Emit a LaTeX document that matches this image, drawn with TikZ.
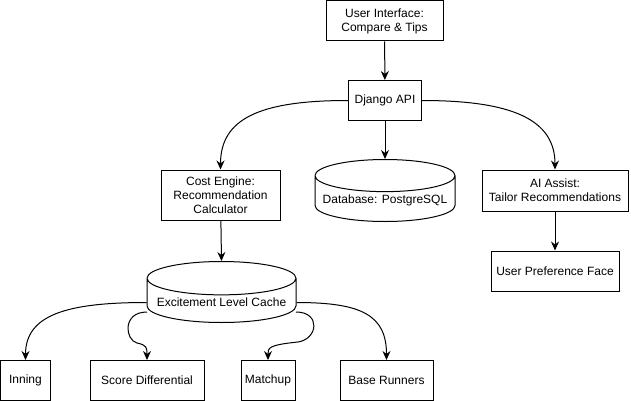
\documentclass[tikz,border=0pt]{standalone}
\usepackage{fontspec}
\setmainfont{Liberation Sans}
\usepackage{tikz}
\usetikzlibrary{calc}
\usetikzlibrary{arrows.meta}
\usetikzlibrary{shapes.geometric}
\tikzset{box/.style={draw=black, line width=1pt, inner sep=2pt, align=center, font=\fontsize{12}{14}\selectfont}}
\tikzset{store/.style={box, cylinder, shape border rotate=90, aspect=0.25, anchor=shape center}}

\begin{document}
\begin{tikzpicture}[x=1pt, y=-1pt]
\tikzstyle{arr} = [line width=1pt, -{Stealth[length=9pt, width=8pt, inset=3pt]}]
\useasboundingbox (0, 0) rectangle (631, 401);

\node[box, minimum width=117pt, minimum height=40pt](ui) at (384.5, 21){User Interface:\\Compare \& Tips};
\node[box, minimum width=73pt, minimum height=40pt](api) at (385, 100.5){Django API};
\node[box, minimum width=119pt, minimum height=50pt](cost) at (220.5, 195){Cost Engine:\\Recommendation\\Calculator};
\node[store, minimum width=140pt, minimum height=62pt](db) at (385, 190.5){Database: PostgreSQL};
\node[box, minimum width=146pt, minimum height=41pt](ai) at (555, 190.5){AI Assist:\\Tailor Recommendations};
\node[box, minimum width=128pt, minimum height=40pt](pref) at (555, 271){User Preference Face};

\node[store, minimum width=149pt, minimum height=61pt](cache) at (221.5, 292){Excitement Level Cache};

\node[box, minimum width=50pt, minimum height=40pt](inning) at (25.5, 380.5){Inning};
\node[box, minimum width=114pt, minimum height=40pt](score) at (147, 380.5){Score Differential};
\node[box, minimum width=54pt, minimum height=40pt](matchup) at (268, 380.5){Matchup};
\node[box, minimum width=93pt, minimum height=40pt](runners) at (386.5, 380.5){Base Runners};

\draw[arr] (ui) -- (api);
\draw[arr] (api) -- (db.top);
\draw[arr] (api.west) .. controls +(-90, 0) and +(0, -50) .. (cost.north);
\draw[arr] (api.east) .. controls +(90, 0) and +(0, -50) .. (ai.north);
\draw[arr] (ai) -- (pref);
\draw[arr] (cost) -- (cache.top);

\coordinate (cl) at ($(cache.shape center) + (-74.5, 20)$);
\coordinate (cr) at ($(cache.shape center) + (74.5, 20)$);
\draw[arr] (cache.west) .. controls +(-80, 0) and +(0, -45) .. (inning.north);
\draw[arr] (cache.east) .. controls +(65, 0) and +(0, -45) .. (runners.north);
\draw[arr] (cl) .. controls +(-25, 0) and +(-12, -3) .. ($(score.north) + (-10, -17)$)
  .. controls +(10, 2) and +(0, -12) .. (score.north);
\draw[arr] (cr) .. controls +(25, 0) and +(20, -3) .. ($(matchup.north) + (30, -18)$)
  .. controls +(-30, 3) and +(0, -12) .. (matchup.north);

\end{tikzpicture}
\end{document}
